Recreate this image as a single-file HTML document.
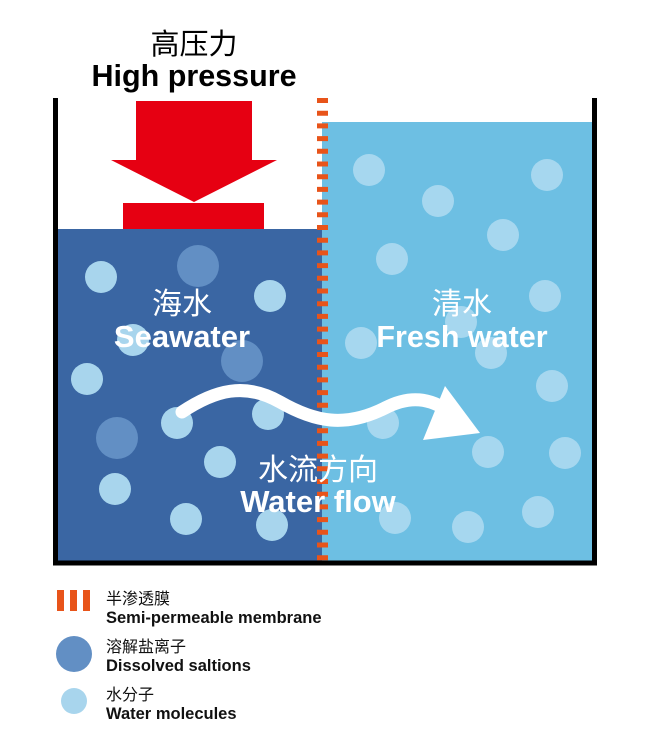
<!DOCTYPE html>
<html><head><meta charset="utf-8"><style>
body{margin:0;background:#fff;width:651px;height:741px;overflow:hidden}
svg text{font-family:"Liberation Sans","Noto Sans CJK SC",sans-serif}
</style></head><body>
<svg width="651" height="741" viewBox="0 0 651 741" xmlns="http://www.w3.org/2000/svg">
<rect x="58" y="229" width="264" height="332" fill="#3a66a3"/>
<rect x="322" y="122" width="271" height="439" fill="#6dbfe3"/>
<g fill="#a8d5ed">
<circle cx="101" cy="277" r="16"/><circle cx="270" cy="296" r="16"/><circle cx="87" cy="379" r="16"/>
<circle cx="133" cy="340" r="16"/><circle cx="177" cy="423" r="16"/><circle cx="220" cy="462" r="16"/>
<circle cx="115" cy="489" r="16"/><circle cx="186" cy="519" r="16"/><circle cx="272" cy="525" r="16"/>
<circle cx="268" cy="414" r="16"/>
</g>
<g fill="#628fc4"><circle cx="198" cy="266" r="21"/><circle cx="242" cy="361" r="21"/><circle cx="117" cy="438" r="21"/></g>
<g fill="#a6d7ef">
<circle cx="369" cy="170" r="16"/><circle cx="438" cy="201" r="16"/><circle cx="547" cy="175" r="16"/>
<circle cx="503" cy="235" r="16"/><circle cx="392" cy="259" r="16"/><circle cx="545" cy="296" r="16"/>
<circle cx="361" cy="343" r="16"/><circle cx="461" cy="322" r="16"/><circle cx="491" cy="353" r="16"/>
<circle cx="552" cy="386" r="16"/><circle cx="383" cy="423" r="16"/><circle cx="565" cy="453" r="16"/>
<circle cx="488" cy="452" r="16"/><circle cx="395" cy="518" r="16"/><circle cx="468" cy="527" r="16"/>
<circle cx="538" cy="512" r="16"/>
</g>
<path d="M55.5 98V563H594.5V98" fill="none" stroke="#000" stroke-width="5"/>
<line x1="322.5" y1="98" x2="322.5" y2="561" stroke="#e8541a" stroke-width="11" stroke-dasharray="5 7.7"/>
<polygon points="136,101 252,101 252,160 277,160 194,202 111,160 136,160" fill="#e60012"/>
<rect x="123" y="203" width="141" height="26" fill="#e60012"/>
<path d="M182 412 C215 390 245 382 280 402 S 345 428 385 408 C410 395 430 398 450 412" fill="none" stroke="#fff" stroke-width="13" stroke-linecap="round"/>
<polygon points="445,386 480,433 423,440" fill="#fff"/>
<g text-anchor="middle" font-weight="bold">
<text x="194" y="54" font-size="29" font-weight="normal">高压力</text>
<text x="194" y="86" font-size="30.5">High pressure</text>
<text x="182" y="314" font-size="30" fill="#fff" font-weight="normal">海水</text>
<text x="182" y="347" font-size="31" fill="#fff">Seawater</text>
<text x="462" y="314" font-size="30" fill="#fff" font-weight="normal">清水</text>
<text x="462" y="347" font-size="30.5" fill="#fff">Fresh water</text>
<text x="318" y="480" font-size="30" fill="#fff" font-weight="normal">水流方向</text>
<text x="318" y="512" font-size="31" fill="#fff">Water flow</text>
</g>
<g fill="#e8541a"><rect x="57" y="590" width="7" height="21"/><rect x="70" y="590" width="7" height="21"/><rect x="83" y="590" width="7" height="21"/></g>
<circle cx="74" cy="654" r="18" fill="#628fc4"/>
<circle cx="74" cy="701" r="13" fill="#a8d5ed"/>
<g font-size="16.5" fill="#111">
<text x="106" y="604" font-size="16">半渗透膜</text>
<text x="106" y="623" font-weight="bold">Semi-permeable membrane</text>
<text x="106" y="652" font-size="16">溶解盐离子</text>
<text x="106" y="671" font-weight="bold">Dissolved saltions</text>
<text x="106" y="700" font-size="16">水分子</text>
<text x="106" y="719" font-weight="bold">Water molecules</text>
</g>
</svg>
</body></html>
